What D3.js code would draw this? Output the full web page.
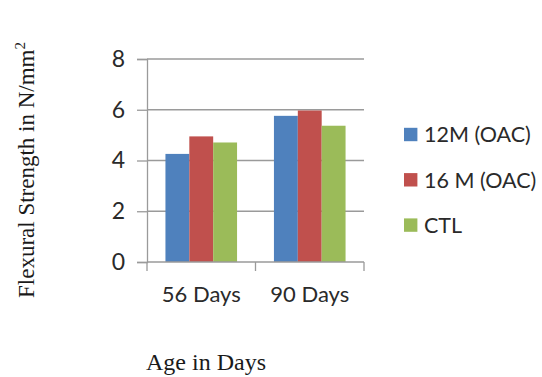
<!DOCTYPE html>
<html>
<head>
<meta charset="utf-8">
<script src="https://cdn.jsdelivr.net/npm/d3@7/dist/d3.min.js"></script>
<style>
  html, body { margin: 0; padding: 0; background: #fff; }
  svg { display: block; }
</style>
</head>
<body>
<svg id="chart" width="542" height="377"></svg>
<script>
// Flexural strength by age, grouped by mix
const categories = ["56 Days", "90 Days"];
const seriesNames = ["12M (OAC)", "16 M (OAC)", "CTL"];
const series12M = [4.26, 5.76];
const series16M = [4.95, 5.97];
const seriesCTL = [4.71, 5.37];
const yTicks = [0, 2, 4, 6, 8];
const colors = ["#4F81BD", "#C0504D", "#9BBB59"];

const seriesValues = [series12M, series16M, seriesCTL];

const svg = d3.select("#chart");
const plotLeft = 147, plotRight = 364, plotTop = 59, plotBottom = 262;

const x = d3.scaleBand().domain(categories).range([plotLeft, plotRight])
  .paddingInner(0.34).paddingOuter(0.17);
const xInner = d3.scaleBand().domain(seriesNames).range([0, x.bandwidth()]);
const y = d3.scaleLinear().domain([0, 8]).range([plotBottom, plotTop]);

const sans = "Lato, 'Open Sans', sans-serif";
const serif = "'Liberation Serif', 'Times New Roman', serif";
const gridColor = "#9a9a9a";
const labelColor = "#2a2a2a";

// horizontal gridlines
svg.append("g")
  .selectAll("line")
  .data(yTicks.filter(d => d !== 0))
  .join("line")
  .attr("x1", plotLeft).attr("x2", plotRight)
  .attr("y1", d => y(d)).attr("y2", d => y(d))
  .attr("stroke", gridColor).attr("stroke-width", 1.3);

// y axis
const yAxis = svg.append("g")
  .attr("transform", `translate(${plotLeft},0)`)
  .call(d3.axisLeft(y).tickValues(yTicks).tickSize(10).tickPadding(12).tickFormat(d3.format("d")));
yAxis.select(".domain").attr("stroke", gridColor).attr("stroke-width", 1.3);
yAxis.selectAll(".tick line").attr("stroke", gridColor).attr("stroke-width", 1.3);
yAxis.selectAll(".tick text")
  .attr("font-family", sans).attr("font-size", 23).attr("fill", labelColor);

// bars
const groups = svg.append("g")
  .selectAll("g")
  .data(categories)
  .join("g")
  .attr("transform", d => `translate(${x(d)},0)`);

groups.selectAll("rect")
  .data((c, i) => seriesNames.map((s, k) => ({ s, k, v: seriesValues[k][i] })))
  .join("rect")
  .attr("x", d => xInner(d.s))
  .attr("width", xInner.bandwidth())
  .attr("y", d => y(d.v))
  .attr("height", d => y(0) - y(d.v))
  .attr("fill", d => colors[d.k]);

// x axis line and category boundary ticks
const xAxisG = svg.append("g").attr("transform", `translate(0,${plotBottom})`);
xAxisG.append("line")
  .attr("x1", plotLeft).attr("x2", plotRight)
  .attr("stroke", gridColor).attr("stroke-width", 1.3);
const step = x.step();
xAxisG.selectAll("line.tick")
  .data(d3.range(categories.length + 1))
  .join("line")
  .attr("class", "tick")
  .attr("x1", i => plotLeft + i * step).attr("x2", i => plotLeft + i * step)
  .attr("y1", 0).attr("y2", 9)
  .attr("stroke", gridColor).attr("stroke-width", 1.3);
xAxisG.selectAll("text")
  .data(categories)
  .join("text")
  .attr("x", d => x(d) + x.bandwidth() / 2)
  .attr("y", 40)
  .attr("text-anchor", "middle")
  .attr("font-family", sans).attr("font-size", 22).attr("fill", labelColor)
  .text(d => d);

// legend
const legend = svg.append("g")
  .selectAll("g")
  .data(seriesNames)
  .join("g")
  .attr("transform", (d, i) => `translate(404,${134.5 + i * 45.3})`);
legend.append("rect")
  .attr("x", 0).attr("y", -6.7).attr("width", 13.4).attr("height", 13.4)
  .attr("fill", (d, i) => colors[i]);
legend.append("text")
  .attr("x", 20).attr("y", 0).attr("dy", "0.36em")
  .attr("font-family", sans).attr("font-size", 21.5).attr("fill", labelColor)
  .text(d => d);

// axis titles
const yTitle = svg.append("text")
  .attr("transform", "translate(34,170) rotate(-90)")
  .attr("text-anchor", "middle")
  .attr("font-family", serif).attr("font-size", 23).attr("fill", "#1a1a1a");
yTitle.append("tspan").text("Flexural Strength in N/mm");
yTitle.append("tspan").attr("font-size", 15).attr("dy", "-9").text("2");

svg.append("text")
  .attr("x", 206).attr("y", 370)
  .attr("text-anchor", "middle")
  .attr("font-family", serif).attr("font-size", 24).attr("fill", "#1a1a1a")
  .text("Age in Days");
</script>
</body>
</html>
